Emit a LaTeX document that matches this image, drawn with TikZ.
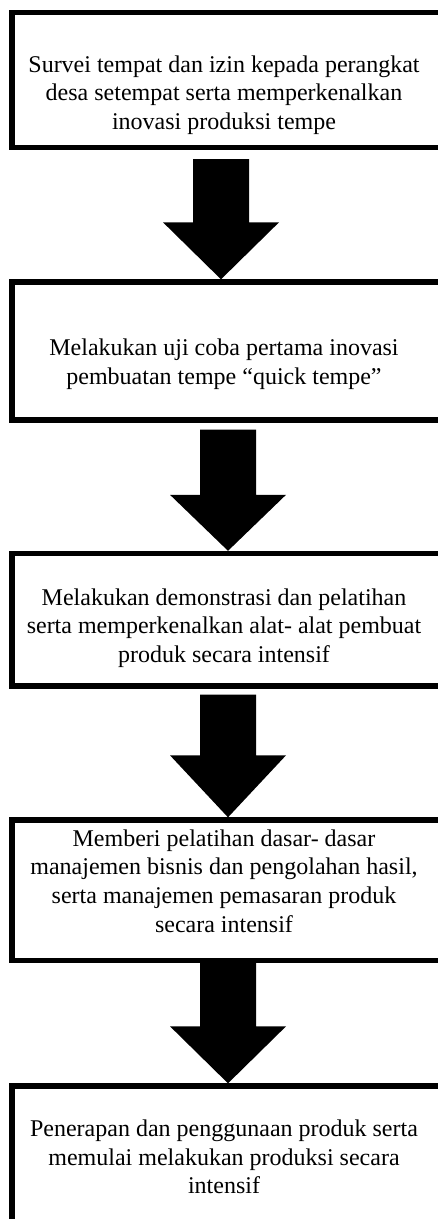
\documentclass[tikz,border=0pt]{standalone}
\usepackage{fontspec}
\setmainfont{Liberation Serif}
\usetikzlibrary{calc}

\tikzset{
  stepbox/.style={draw, line width=4pt, minimum width=324pt, inner sep=0pt},
  steptext/.style={align=center, font=\fontsize{18}{21.4}\selectfont, inner sep=0pt},
}

\begin{document}
\begin{tikzpicture}[x=0.75pt, y=-0.75pt]
  \useasboundingbox (0,0) rectangle (437,1219);

  % boxes of the steps
  \node[stepbox, minimum height=101.25pt] (b1) at (228,80) {};
  \node[stepbox, minimum height=103.5pt] (b2) at (228,351) {};
  \node[stepbox, minimum height=99.4pt] (b3) at (228,619.75) {};
  \node[stepbox, minimum height=105.4pt] (b4) at (228,890.25) {};
  \node[stepbox, minimum height=115.5pt] (b5) at (228,1163) {};

  % texts of the steps
  \node[steptext] (t1) at (224,95) {Survei tempat dan izin kepada perangkat\\desa setempat serta memperkenalkan\\inovasi produksi tempe};
  \node[steptext] (t2) at (224,364) {Melakukan uji coba pertama inovasi\\pembuatan tempe ``quick tempe''};
  \node[steptext] (t3) at (224,628) {Melakukan demonstrasi dan pelatihan\\serta memperkenalkan alat- alat pembuat\\produk secara intensif};
  \node[steptext] (t4) at (224,881) {Memberi pelatihan dasar- dasar\\manajemen bisnis dan pengolahan hasil,\\serta manajemen pemasaran produk\\secara intensif};
  \node[steptext] (t5) at (224,1157) {Penerapan dan penggunaan produk serta\\memulai melakukan produksi secara\\intensif};

  % block arrows between the boxes
  \foreach \a/\b/\dx/\gap/\head in {b1/b2/-7/9/57, b2/b3/0/7/56, b3/b4/0/6/62, b4/b5/0/0/57}
    \fill ($(\a.south)+(\dx-28,\gap)$) -- ($(\a.south)+(\dx+28,\gap)$)
      -- ($(\b.north)+(\dx+28,-\head)$) -- ($(\b.north)+(\dx+58,-\head)$)
      -- ($(\b.north)+(\dx,0)$)
      -- ($(\b.north)+(\dx-58,-\head)$) -- ($(\b.north)+(\dx-28,-\head)$) -- cycle;
\end{tikzpicture}
\end{document}
